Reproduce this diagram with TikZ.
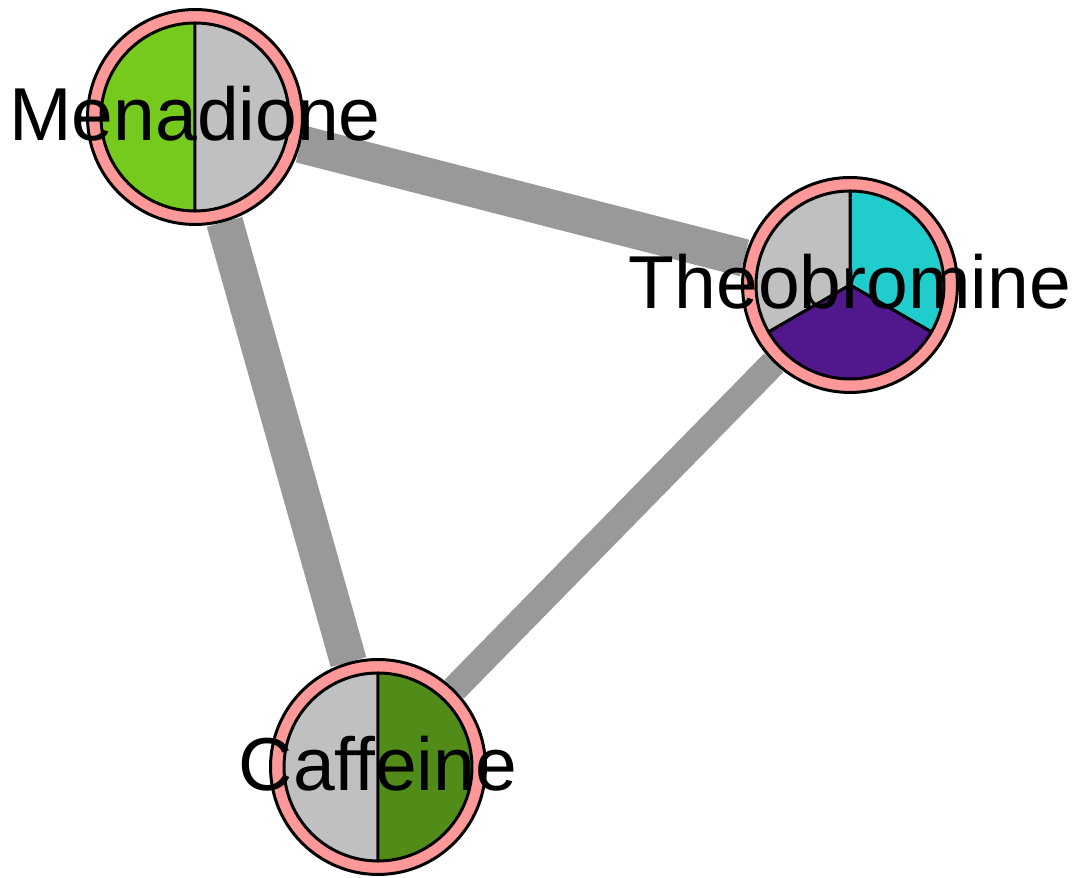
\documentclass[tikz,border=0pt]{standalone}
\usepackage{fontspec}
\setmainfont{Liberation Sans}
\usepackage{tikz}
\usetikzlibrary{backgrounds}

\definecolor{edgegray}{RGB}{153,153,153}
\definecolor{ringpink}{RGB}{255,153,153}
\definecolor{pgray}{RGB}{192,192,192}
\definecolor{lgreen}{RGB}{118,202,30}
\definecolor{dgreen}{RGB}{82,140,24}
\definecolor{pcyan}{RGB}{32,204,204}
\definecolor{ppurple}{RGB}{80,24,140}

\begin{document}
\begin{tikzpicture}[x=0.02cm, y=0.02cm,
    ring/.style={circle, draw=black, fill=ringpink, line width=1.7pt, minimum size=4.3cm, inner sep=0pt},
    slice/.style={draw=black, line width=1.7pt, line join=round},
    link/.style={draw=edgegray},
    lab/.style={anchor=base, inner sep=0pt, font=\fontsize{42.7}{50}\selectfont}]

\useasboundingbox (0,0) rectangle (1079,878);

% Compounds
\node[ring] (men) at (195,761) {};
\node[ring] (theo) at (850,593) {};
\node[ring] (caff) at (378,111) {};

% Links (behind the rings)
\begin{scope}[on background layer]
\draw[link, line width=21.5pt] (men) -- (theo);
\draw[link, line width=21pt] (men) -- (caff);
\draw[link, line width=15.3pt] (theo) -- (caff);
\end{scope}

% Pie slices
\filldraw[slice, fill=lgreen] (men.center) -- ++(90:94) arc[start angle=90, end angle=270, radius=94] -- cycle;
\filldraw[slice, fill=pgray] (men.center) -- ++(-90:94) arc[start angle=-90, end angle=90, radius=94] -- cycle;

\filldraw[slice, fill=pcyan] (theo.center) -- ++(-30:94) arc[start angle=-30, end angle=90, radius=94] -- cycle;
\filldraw[slice, fill=pgray] (theo.center) -- ++(90:94) arc[start angle=90, end angle=210, radius=94] -- cycle;
\filldraw[slice, fill=ppurple] (theo.center) -- ++(210:94) arc[start angle=210, end angle=330, radius=94] -- cycle;

\filldraw[slice, fill=pgray] (caff.center) -- ++(90:94) arc[start angle=90, end angle=270, radius=94] -- cycle;
\filldraw[slice, fill=dgreen] (caff.center) -- ++(-90:94) arc[start angle=-90, end angle=90, radius=94] -- cycle;

% Names
\node[lab] (menlab) at ([yshift=-24*0.02cm]men.center) {Menadione};
\node[lab] (theolab) at ([yshift=-24*0.02cm]theo.center) {Theobromine};
\node[lab] (cafflab) at ([yshift=-24*0.02cm]caff.center) {Caffeine};

\end{tikzpicture}
\end{document}
